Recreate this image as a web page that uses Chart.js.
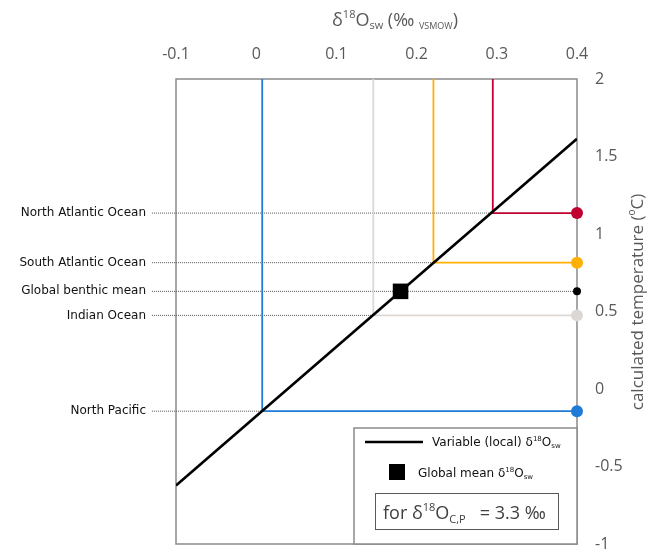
<!DOCTYPE html>
<html>
<head>
<meta charset="utf-8">
<script src="https://cdn.jsdelivr.net/npm/chart.js@4/dist/chart.umd.min.js"></script>
<style>html,body{margin:0;padding:0;background:#fff;overflow:hidden}</style>
</head>
<body>
<canvas id="chart" width="654" height="555"></canvas>
<script>
// data
const regions = ['North Atlantic Ocean', 'South Atlantic Ocean', 'Global benthic mean', 'Indian Ocean', 'North Pacific'];
const d18Osw = [0.295, 0.221, 0.18, 0.146, 0.0075];   // ‰ VSMOW
const tempC = [1.135, 0.815, 0.63, 0.475, -0.143];    // calculated temperature
const regionColors = ['#C0002E', '#FFB000', '#000000', '#DDD8D3', '#1F7BD6'];
const globalIdx = 2;
const lineX = [-0.1, 0.4];          // variable (local) δ18Osw line
const lineT = [-0.623, 1.615];
const xRange = [-0.1, 0.4], xStep = 0.1;
const yRange = [-1, 2], yStep = 0.5;
const leaderStart = -0.13;
const calcite = 3.3;

const SANS = '"Open Sans", "Noto Sans", sans-serif';
const DJ = '"DejaVu Sans", sans-serif';
const grey = '#595959';

function rich(ctx, parts, x, y, align){
  let w = 0;
  parts.forEach(p=>{ ctx.font = p.f; w += ctx.measureText(p.t).width; });
  let cx = align === 'center' ? x - w / 2 : x;
  parts.forEach(p=>{ ctx.font = p.f; ctx.fillText(p.t, cx, y + (p.dy || 0)); cx += ctx.measureText(p.t).width; });
}
const fmt = v => String(+Number(v).toFixed(2));

// datasets
const datasets = [];
datasets.push({ data: [{ x: d18Osw[globalIdx], y: tempC[globalIdx] }], pointStyle: 'rect', pointRadius: 11, pointBorderWidth: 0,
  backgroundColor: '#000', borderColor: '#000', showLine: false, order: 0, clip: false });
datasets.push({ data: lineX.map((x, i)=>({ x, y: lineT[i] })), borderColor: '#000', borderWidth: 2.6, pointRadius: 0, showLine: true, order: 1 });
regions.forEach((r, i)=>{
  const g = i === globalIdx;
  datasets.push({ data: [{ x: leaderStart, y: tempC[i] }, { x: g ? xRange[1] : d18Osw[i], y: tempC[i] }],
    borderColor: '#555', borderWidth: 1, borderDash: [1, 1], showLine: true,
    pointRadius: [0, g ? 4 : 0], pointBorderWidth: 0, pointBackgroundColor: '#000', order: 4, clip: false });
  if(g) return;
  datasets.push({ data: [{ x: d18Osw[i], y: yRange[1] }, { x: d18Osw[i], y: tempC[i] }, { x: xRange[1], y: tempC[i] }],
    borderColor: regionColors[i], borderWidth: 1.8, showLine: true,
    pointRadius: [0, 0, 6], pointBorderWidth: 0, pointBackgroundColor: regionColors[i], order: 3, clip: false });
});

const frame = {
  id: 'frame',
  beforeDatasetsDraw(chart){
    const { ctx, chartArea: a } = chart;
    ctx.save(); ctx.strokeStyle = '#8a8a8a'; ctx.lineWidth = 1.5;
    ctx.strokeRect(a.left, a.top, a.right - a.left, a.bottom - a.top);
    ctx.restore();
  },
  afterDatasetsDraw(chart){
    const { ctx, chartArea: a, scales: { y } } = chart;
    ctx.save();
    // region labels
    ctx.fillStyle = '#111'; ctx.font = '12px ' + DJ; ctx.textAlign = 'right'; ctx.textBaseline = 'middle';
    regions.forEach((r, i)=> ctx.fillText(r, 146, y.getPixelForValue(tempC[i])));
    ctx.textAlign = 'left'; ctx.textBaseline = 'alphabetic';
    // axis titles
    ctx.fillStyle = grey;
    rich(ctx, [{ t: 'δ', f: '18px ' + SANS }, { t: '18', f: '11px ' + SANS, dy: -8 }, { t: 'O', f: '18px ' + SANS },
      { t: 'sw', f: '11px ' + SANS, dy: 3 }, { t: ' (‰ ', f: '18px ' + SANS }, { t: 'VSMOW', f: '9px ' + SANS, dy: 3 },
      { t: ')', f: '18px ' + SANS }], 395, 26, 'center');
    ctx.save(); ctx.translate(643, 302); ctx.rotate(-Math.PI / 2);
    rich(ctx, [{ t: 'calculated temperature (', f: '17px ' + SANS }, { t: 'o', f: '10px ' + SANS, dy: -8 },
      { t: 'C)', f: '17px ' + SANS }], 0, 0, 'center');
    ctx.restore();
    // legend box
    const bx = a.right - 223, by = a.bottom - 116;
    ctx.fillStyle = '#fff'; ctx.fillRect(bx, by, 223, 116);
    ctx.strokeStyle = '#8a8a8a'; ctx.lineWidth = 1.5; ctx.strokeRect(bx, by, 223, 116);
    ctx.strokeStyle = '#000'; ctx.lineWidth = 2.6;
    ctx.beginPath(); ctx.moveTo(bx + 11, by + 14); ctx.lineTo(bx + 69, by + 14); ctx.stroke();
    ctx.fillStyle = '#000'; ctx.fillRect(bx + 35, by + 36, 16, 16);
    ctx.fillStyle = '#111';
    rich(ctx, [{ t: 'Variable (local) δ', f: '12px ' + DJ }, { t: '18', f: '7px ' + DJ, dy: -5 }, { t: 'O', f: '12px ' + DJ },
      { t: 'sw', f: '7px ' + DJ, dy: 2 }], bx + 78, by + 18);
    rich(ctx, [{ t: 'Global mean δ', f: '12px ' + DJ }, { t: '18', f: '7px ' + DJ, dy: -5 }, { t: 'O', f: '12px ' + DJ },
      { t: 'sw', f: '7px ' + DJ, dy: 2 }], bx + 64, by + 49);
    ctx.strokeStyle = '#595959'; ctx.lineWidth = 1; ctx.strokeRect(bx + 21.5, by + 65.5, 183, 36);
    ctx.fillStyle = '#404040';
    rich(ctx, [{ t: 'for δ', f: '18px ' + SANS }, { t: '18', f: '11px ' + SANS, dy: -8 }, { t: 'O', f: '18px ' + SANS },
      { t: 'C,P', f: '11px ' + SANS, dy: 4 }, { t: '   = ' + calcite + ' ‰', f: '18px ' + SANS }], bx + 29, by + 91);
    ctx.restore();
  }
};

new Chart(document.getElementById('chart'), {
  type: 'scatter',
  data: { datasets },
  options: {
    responsive: false, animation: false, devicePixelRatio: 1,
    layout: { padding: { left: 176, top: 0, right: 0, bottom: 7 } },
    plugins: { legend: { display: false }, tooltip: { enabled: false } },
    elements: { line: { tension: 0 } },
    scales: {
      x: { type: 'linear', position: 'top', min: xRange[0], max: xRange[1],
        grid: { display: false, drawTicks: false }, border: { display: false },
        ticks: { stepSize: xStep, padding: 15, color: grey, font: { family: SANS, size: 16 }, callback: fmt },
        afterFit: s => { s.height = 79; s.paddingLeft = 0; s.paddingRight = 0; } },
      y: { type: 'linear', position: 'right', min: yRange[0], max: yRange[1],
        grid: { display: false, drawTicks: false }, border: { display: false },
        ticks: { stepSize: yStep, padding: 18, color: grey, font: { family: SANS, size: 16 }, callback: fmt },
        afterFit: s => { s.width = 77; s.paddingTop = 0; s.paddingBottom = 0; } }
    }
  },
  plugins: [frame]
});
</script>
</body>
</html>
